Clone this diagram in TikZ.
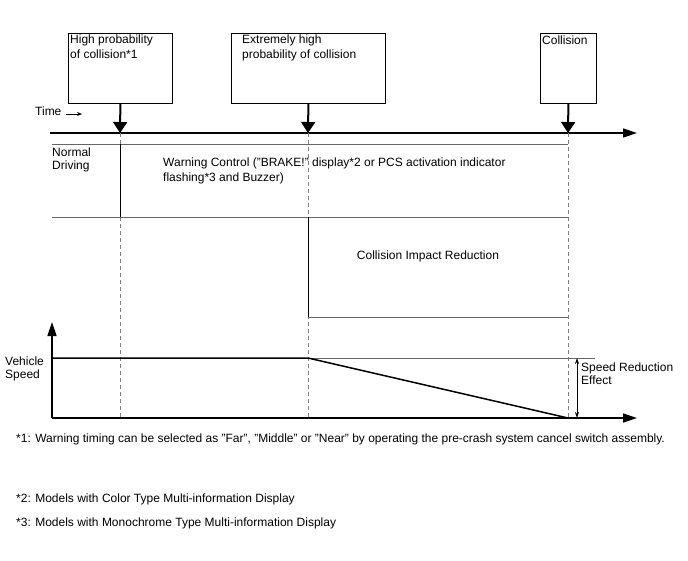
\documentclass[tikz,border=0pt]{standalone}
\usepackage{fontspec}
\setmainfont{Liberation Sans}
\usetikzlibrary{arrows.meta}
\begin{document}
\begin{tikzpicture}[x=1pt,y=-1pt,
  font=\fontsize{12}{14.5}\selectfont,
  box/.style={draw, line width=0.8pt, inner sep=0pt, anchor=north west},
  txt/.style={inner sep=0pt, align=left, anchor=north west},
  lbl/.style={inner sep=0pt, align=left, anchor=west},
  tight/.style={font=\fontsize{12}{13}\selectfont},
  evarrow/.style={line width=2pt, -{Triangle[width=14pt,length=11pt]}},
  axis/.style={line width=1.4pt, -{Triangle[width=9pt,length=14pt]}},
  guide/.style={gray, line width=0.6pt, dash pattern=on 4pt off 3pt},
  sep/.style={black!60, line width=0.8pt},
  solid1/.style={black, line width=0.8pt},
  speed/.style={line width=1.5pt},
  dbl/.style={line width=0.8pt, {Stealth[length=6pt,width=4pt]}-{Stealth[length=6pt,width=4pt]}},
  ]
\useasboundingbox (0,0) rectangle (688,560);
% event boxes
\node[box, minimum width=104pt, minimum height=70pt] (b1) at (68,33) {};
\node[box, minimum width=154pt, minimum height=70pt] (b2) at (231,33) {};
\node[box, minimum width=56pt, minimum height=70pt] (b3) at (540,33) {};
\node[txt] (b1t) at ([xshift=2pt,yshift=-2pt]b1.north west) {High probability\\of collision*1};
\node[txt] (b2t) at ([xshift=11pt,yshift=-2pt]b2.north west) {Extremely high\\probability of collision};
\node[txt] (b3t) at ([xshift=2pt,yshift=-3pt]b3.north west) {Collision};
% time axis
\coordinate (ta0) at (50,133);
\coordinate (ta1) at (637,133);
\coordinate (t1) at (120,133);
\coordinate (t2) at (308,133);
\coordinate (t3) at (568,133);
\draw[axis] (ta0) -- (ta1);
\draw[evarrow] (b1.south) -- (t1);
\draw[evarrow] (b2.south) -- (t2);
\draw[evarrow] (b3.south) -- (t3);
\node[lbl] (time) at (35,111) {Time};
\coordinate (tas) at (66,114);
\coordinate (tae) at (82,114);
\draw[line width=0.8pt, -{Stealth[length=5pt,width=4pt]}] (tas) -- (tae);
% guides
\coordinate (g1) at (120,418);
\coordinate (g2) at (308,418);
\coordinate (g3) at (568,418);
\draw[guide] (t1) -- (g1);
\draw[guide] (t2) -- (g2);
\draw[guide] (t3) -- (g3);
% warning control region
\coordinate (w0) at (52,144);
\coordinate (w1) at (568,144);
\coordinate (w2) at (120,144);
\coordinate (w3) at (120,217);
\coordinate (s0) at (52,217);
\coordinate (s1) at (568,217);
\coordinate (c0) at (308,217);
\coordinate (c1) at (308,317);
\coordinate (c2) at (568,317);
\draw[sep] (w0) -- (w1);
\draw[solid1] (w2) -- (w3);
\draw[sep] (s0) -- (s1);
\draw[solid1] (c0) -- (c1);
\draw[sep] (c1) -- (c2);
\node[lbl, tight, anchor=north west] (nd) at (52,148) {Normal\\Driving};
\node[lbl, anchor=north west] (wc) at (163,158) {Warning Control ("BRAKE!" display*2 or PCS activation indicator\\flashing*3 and Buzzer)};
\node[inner sep=0pt] (cir) at (428,256) {Collision Impact Reduction};
% speed chart
\coordinate (o) at (52,418);
\coordinate (ytop) at (52,322);
\coordinate (xend) at (637,418);
\coordinate (v0) at (52,358);
\coordinate (v1) at (308,358);
\coordinate (v2) at (568,418);
\coordinate (v3) at (595,358);
\coordinate (d0) at (577,358);
\coordinate (d1) at (577,418);
\draw[axis] (o) -- (ytop);
\draw[axis] (o) -- (xend);
\draw[sep] (v1) -- (v3);
\draw[speed] (v0) -- (v1) -- (v2);
\draw[dbl] (d0) -- (d1);
\node[lbl, tight, anchor=north west] (vs) at (5,357) {Vehicle\\Speed};
\node[lbl, tight, anchor=north west] (sre) at (581,363) {Speed Reduction\\Effect};
% footnotes
\node[lbl] (f1) at (16,439) {*1: Warning timing can be selected as "Far", "Middle" or "Near" by operating the pre-crash system cancel switch assembly.};
\node[lbl] (f2) at (16,499) {*2: Models with Color Type Multi-information Display};
\node[lbl] (f3) at (16,523) {*3: Models with Monochrome Type Multi-information Display};
\end{tikzpicture}
\end{document}
